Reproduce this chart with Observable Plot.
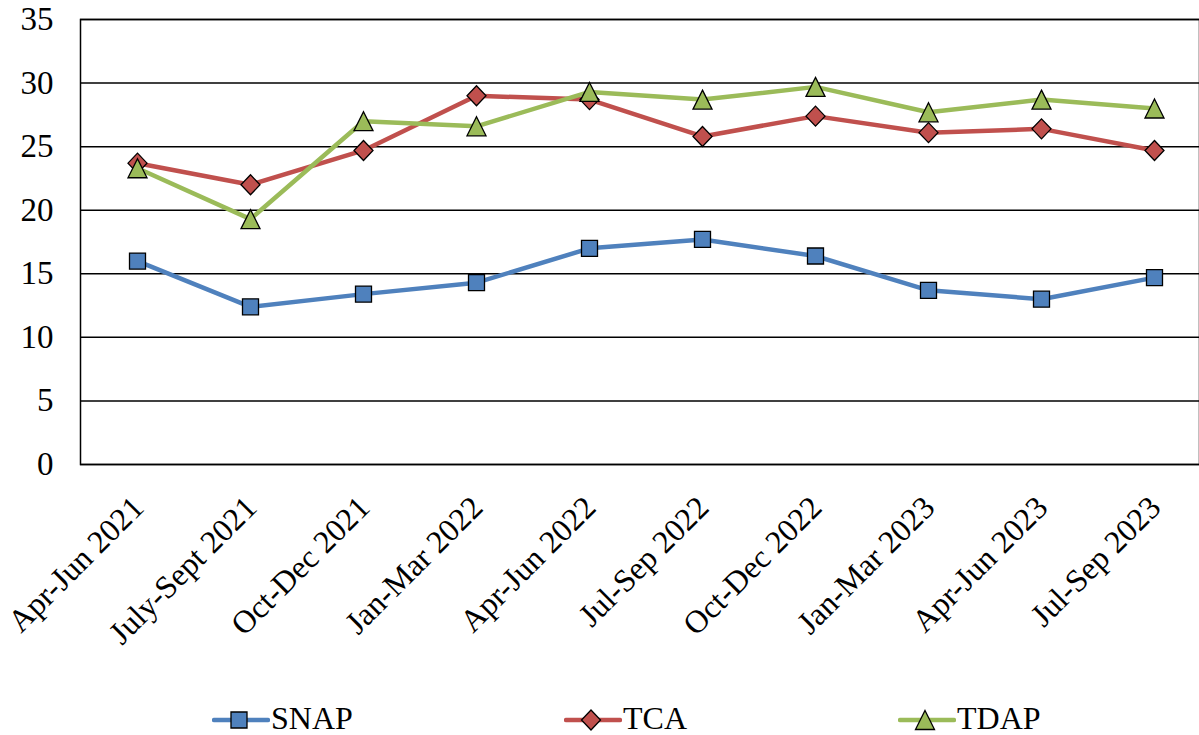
<!DOCTYPE html>
<html>
<head>
<meta charset="utf-8">
<script src="https://cdn.jsdelivr.net/npm/d3@7"></script>
<script src="https://cdn.jsdelivr.net/npm/@observablehq/plot@0.6"></script>
<style>
  html, body { margin: 0; padding: 0; background: #fff; overflow: hidden; }
  #wrap { position: relative; width: 1199px; height: 735px; font-family: "Liberation Serif", Tinos, "Times New Roman", serif; }
  #legend { position: absolute; left: 0; top: 702px; width: 1199px; height: 32px; }
  .item { position: absolute; top: 0; height: 32px; display: flex; align-items: center; font-size: 32px; line-height: 28px; color: #000; font-family: "Liberation Serif", Tinos, "Times New Roman", serif; }
  .item svg { display: block; margin-right: 1px; }
  .item span { display: block; line-height: 28px; }
</style>
</head>
<body>
<div id="wrap"><div id="chart"></div><div id="legend"></div></div>
<script>
const categories = ["Apr-Jun 2021", "July-Sept 2021", "Oct-Dec 2021", "Jan-Mar 2022", "Apr-Jun 2022",
                    "Jul-Sep 2022", "Oct-Dec 2022", "Jan-Mar 2023", "Apr-Jun 2023", "Jul-Sep 2023"];
const seriesNames = ["SNAP", "TCA", "TDAP"];
const snap = [16.0, 12.4, 13.4, 14.3, 17.0, 17.7, 16.4, 13.7, 13.0, 14.7];
const tca  = [23.7, 22.0, 24.7, 29.0, 28.7, 25.8, 27.4, 26.1, 26.4, 24.7];
const tdap = [23.3, 19.3, 27.0, 26.6, 29.3, 28.7, 29.7, 27.7, 28.7, 28.0];
const yTicks = [0, 5, 10, 15, 20, 25, 30, 35];

const serif = "Liberation Serif, Tinos, Times New Roman, serif";
const colors = {SNAP: "#4F81BD", TCA: "#C0504D", TDAP: "#9BBB59"};
const values = {SNAP: snap, TCA: tca, TDAP: tdap};

// custom marker shapes (fixed pixel sizes, bbox centred on the point)
const squareSym = {draw(ctx) { const h = 8; ctx.moveTo(-h, -h); ctx.lineTo(h, -h); ctx.lineTo(h, h); ctx.lineTo(-h, h); ctx.closePath(); }};
const diamondSym = {draw(ctx) { const w = 9.5, h = 10; ctx.moveTo(0, -h); ctx.lineTo(w, 0); ctx.lineTo(0, h); ctx.lineTo(-w, 0); ctx.closePath(); }};
const triangleSym = {draw(ctx) { const w = 9.5, h = 9.5; ctx.moveTo(0, -h); ctx.lineTo(w, h); ctx.lineTo(-w, h); ctx.closePath(); }};
const symbols = {SNAP: squareSym, TCA: diamondSym, TDAP: triangleSym};

const marks = [
  Plot.ruleY(yTicks, {stroke: "#000", strokeWidth: 1.5}),
  Plot.frame({stroke: "#000", strokeWidth: 1.5}),
  Plot.axisY(yTicks, {tickSize: 0, tickPadding: 27, fontSize: 33, fontFamily: serif, fill: "#000", label: null}),
  Plot.text(categories, {x: d => d, y: () => 0, text: d => d, rotate: -45, textAnchor: "end", lineAnchor: "bottom",
    dx: 8, dy: 45, fontSize: 32, fontFamily: serif, fill: "#000"})
];
for (const name of seriesNames) {
  const data = categories.map((c, i) => ({cat: c, v: values[name][i]}));
  marks.push(Plot.line(data, {x: "cat", y: "v", stroke: colors[name], strokeWidth: 4.5, strokeLinejoin: "round", strokeLinecap: "round"}));
  marks.push(Plot.dot(data, {x: "cat", y: "v", symbol: () => symbols[name], r: 8, fill: colors[name], stroke: "#000", strokeWidth: 1.3}));
}

const chart = Plot.plot({
  width: 1199,
  height: 690,
  marginTop: 19,
  marginBottom: 226,
  marginLeft: 80,
  marginRight: 0,
  style: {background: "white", fontFamily: serif},
  x: {type: "point", domain: categories, range: [80, 1210], padding: 0.5, axis: null},
  y: {domain: [0, 35], axis: null},
  symbol: {type: "identity"},
  marks
});
document.getElementById("chart").appendChild(chart);

// legend
const legendPos = {SNAP: 212, TCA: 564, TDAP: 898};
const legend = d3.select("#legend");
for (const name of seriesNames) {
  const item = legend.append("div").attr("class", "item").style("left", legendPos[name] + "px");
  const svg = item.append("svg").attr("width", 58).attr("height", 32);
  svg.append("line").attr("x1", 2).attr("x2", 56).attr("y1", 18).attr("y2", 18)
    .attr("stroke", colors[name]).attr("stroke-width", 4.5).attr("stroke-linecap", "round");
  const p = d3.path();
  symbols[name].draw(p);
  svg.append("path").attr("d", p.toString()).attr("transform", "translate(27,18)")
    .attr("fill", colors[name]).attr("stroke", "#000").attr("stroke-width", 1.3);
  item.append("span").text(name);
}
</script>
</body>
</html>
